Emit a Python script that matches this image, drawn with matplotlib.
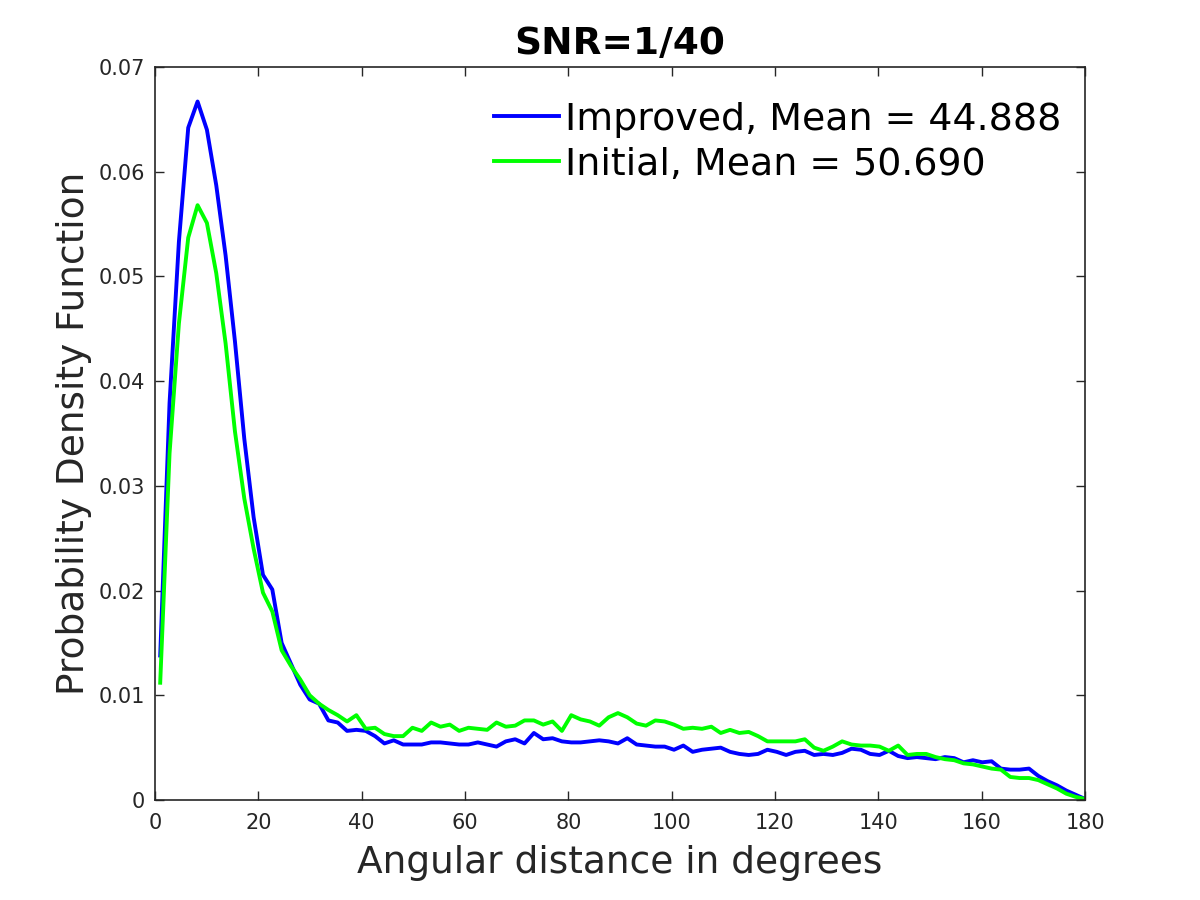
import numpy as np
import matplotlib
matplotlib.use('agg')
import matplotlib.pyplot as plt

# angular bins (degrees), 100 bins from 1 to 180
angle = np.linspace(1, 180, 100)

improved = [0.0138, 0.0379, 0.0533, 0.0642, 0.0667, 0.0640, 0.0587, 0.0520, 0.0438, 0.0345,
            0.0270, 0.0215, 0.0201, 0.0150, 0.0130, 0.0110, 0.0096, 0.0092, 0.0076, 0.0074,
            0.0066, 0.0067, 0.0066, 0.0061, 0.0054, 0.0057, 0.0053, 0.0053, 0.0053, 0.0055,
            0.0055, 0.0054, 0.0053, 0.0053, 0.0055, 0.0053, 0.0051, 0.0056, 0.0058, 0.0054,
            0.0064, 0.0058, 0.0059, 0.0056, 0.0055, 0.0055, 0.0056, 0.0057, 0.0056, 0.0054,
            0.0059, 0.0053, 0.0052, 0.0051, 0.0051, 0.0048, 0.0052, 0.0046, 0.0048, 0.0049,
            0.0050, 0.0046, 0.0044, 0.0043, 0.0044, 0.0048, 0.0046, 0.0043, 0.0046, 0.0047,
            0.0043, 0.0044, 0.0043, 0.0045, 0.0049, 0.0048, 0.0044, 0.0043, 0.0047, 0.0042,
            0.0040, 0.0041, 0.0040, 0.0039, 0.0041, 0.0040, 0.0036, 0.0038, 0.0036, 0.0037,
            0.0030, 0.0029, 0.0029, 0.0030, 0.0023, 0.0018, 0.0014, 0.0009, 0.0005, 0.0001]

initial = [0.0112, 0.0331, 0.0455, 0.0537, 0.0568, 0.0551, 0.0503, 0.0436, 0.0352, 0.0288,
           0.0240, 0.0198, 0.0180, 0.0143, 0.0128, 0.0115, 0.0100, 0.0092, 0.0086, 0.0081,
           0.0075, 0.0081, 0.0068, 0.0069, 0.0063, 0.0061, 0.0061, 0.0069, 0.0066, 0.0074,
           0.0070, 0.0072, 0.0066, 0.0069, 0.0068, 0.0067, 0.0074, 0.0070, 0.0071, 0.0076,
           0.0076, 0.0072, 0.0075, 0.0066, 0.0081, 0.0077, 0.0075, 0.0071, 0.0079, 0.0083,
           0.0079, 0.0073, 0.0071, 0.0076, 0.0075, 0.0072, 0.0068, 0.0069, 0.0068, 0.0070,
           0.0064, 0.0067, 0.0064, 0.0065, 0.0061, 0.0056, 0.0056, 0.0056, 0.0056, 0.0058,
           0.0050, 0.0047, 0.0051, 0.0056, 0.0053, 0.0052, 0.0052, 0.0051, 0.0047, 0.0052,
           0.0043, 0.0044, 0.0044, 0.0041, 0.0039, 0.0038, 0.0035, 0.0034, 0.0032, 0.0030,
           0.0029, 0.0022, 0.0021, 0.0021, 0.0019, 0.0015, 0.0011, 0.0006, 0.0003, 0.0001]

labels = ["Improved, Mean = 44.888", "Initial, Mean = 50.690"]
xticks = [0, 20, 40, 60, 80, 100, 120, 140, 160, 180]
yticks = [0, 0.01, 0.02, 0.03, 0.04, 0.05, 0.06, 0.07]
ytick_labels = ["0", "0.01", "0.02", "0.03", "0.04", "0.05", "0.06", "0.07"]

dark = '#262626'

fig = plt.figure(figsize=(12, 9), dpi=100)
ax = fig.add_axes([0.1292, 0.1111, 0.775, 0.8145])

ax.plot(angle, improved, color='#0000ff', lw=2.8, label=labels[0])
ax.plot(angle, initial, color='#00ff00', lw=2.8, label=labels[1])

ax.set_xlim(0, 180)
ax.set_ylim(0, 0.07)
ax.set_xticks(xticks)
ax.set_yticks(yticks)
ax.set_yticklabels(ytick_labels)

for sp in ax.spines.values():
    sp.set_color(dark)
    sp.set_linewidth(1.2)

ax.tick_params(direction='in', top=True, right=True, length=6.8, width=1.0,
               colors=dark, labelsize=15)
ax.tick_params(axis='x', pad=9)
ax.tick_params(axis='y', pad=7)

ax.set_xlabel("Angular distance in degrees", fontsize=27, color=dark, labelpad=9)
ax.set_ylabel("Probability Density Function", fontsize=27, color=dark, labelpad=5)
ax.set_title("SNR=1/40", fontsize=27, fontweight='bold', color='black', pad=9)

# legend without a box, as in the original figure
ax.legend(loc='upper right', bbox_to_anchor=(1.003, 0.989), frameon=False,
          fontsize=27.3, handlelength=1.72, handletextpad=0.15, labelspacing=0.24,
          borderaxespad=0.3)

fig.savefig("out.png", dpi=100)
